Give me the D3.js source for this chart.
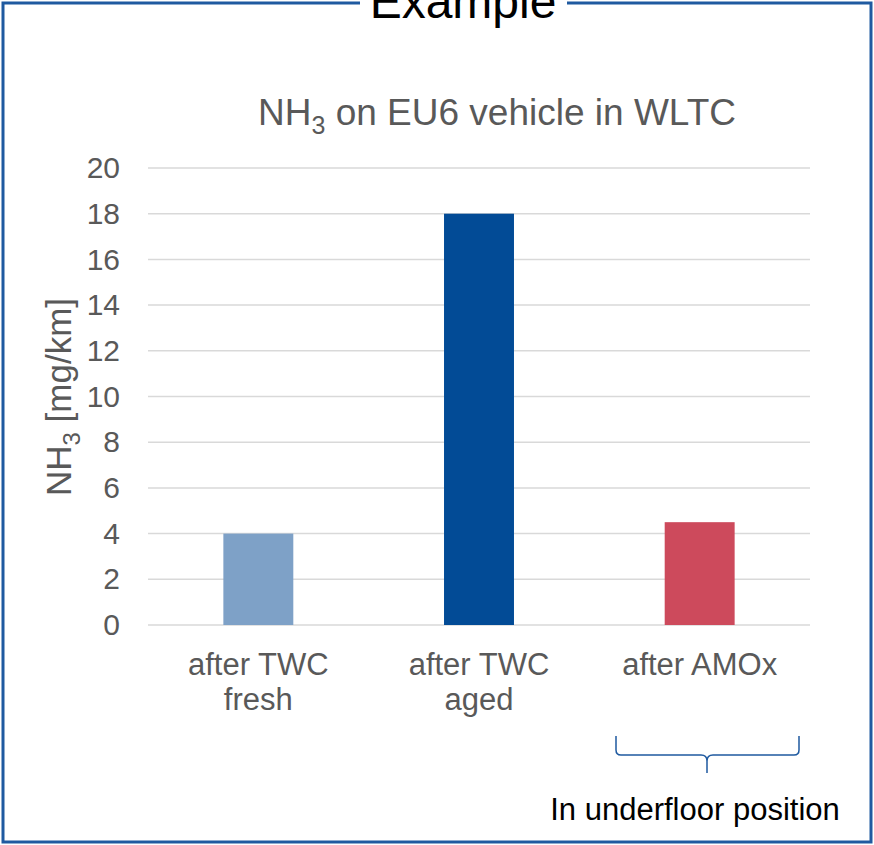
<!DOCTYPE html>
<meta charset="utf-8">
<script src="https://d3js.org/d3.v7.min.js"></script>
<style>
  body { margin: 0; background: #fff; }
  text { font-family: "Liberation Sans", Arial, sans-serif; }
</style>
<div id="chart"></div>
<script>

// data
var categories = [["after TWC", "fresh"], ["after TWC", "aged"], ["after AMOx"]];
var values = [4, 18, 4.5];
var barColors = ["#7ea1c7", "#024b96", "#cd4a5c"];
var yTicks = [0, 2, 4, 6, 8, 10, 12, 14, 16, 18, 20];

var width = 874, height = 845;
var plotLeft = 148, plotRight = 810, plotTop = 168, plotBottom = 625;

var svg = d3.select("#chart").append("svg")
  .attr("width", width)
  .attr("height", height);

// outer frame with gap for the heading
var frame = "#1f5aa0";
svg.append("path")
  .attr("d", "M360,3 L3,3 L3,842 L871,842 L871,3 L567,3")
  .attr("fill", "none")
  .attr("stroke", frame)
  .attr("stroke-width", 3);

svg.append("text")
  .attr("x", 463).attr("y", 18)
  .attr("text-anchor", "middle")
  .style("font-size", "48px")
  .attr("fill", "#000")
  .text("Example");

// scales
var x = d3.scaleBand()
  .domain(d3.range(values.length))
  .range([plotLeft, plotRight])
  .paddingInner(0.683)
  .paddingOuter(0.3415);

var y = d3.scaleLinear().domain([0, 20]).range([plotBottom, plotTop]);

// gridlines
svg.append("g")
  .selectAll("line")
  .data(yTicks)
  .enter().append("line")
  .attr("x1", plotLeft).attr("x2", plotRight)
  .attr("y1", function(d) { return y(d); })
  .attr("y2", function(d) { return y(d); })
  .attr("stroke", "#d9d9d9")
  .attr("stroke-width", 1.5);

// y axis labels
var yAxis = svg.append("g")
  .attr("transform", "translate(" + plotLeft + ",0)")
  .call(d3.axisLeft(y).tickValues(yTicks).tickSize(0).tickPadding(28));
yAxis.select(".domain").remove();
yAxis.selectAll("text")
  .style("font-size", "30px")
  .attr("fill", "#595959")
  .attr("font-family", "Liberation Sans, Arial, sans-serif");

// bars
svg.append("g")
  .selectAll("rect")
  .data(values)
  .enter().append("rect")
  .attr("x", function(d, i) { return x(i); })
  .attr("width", x.bandwidth())
  .attr("y", function(d) { return y(d); })
  .attr("height", function(d) { return y(0) - y(d); })
  .attr("fill", function(d, i) { return barColors[i]; });

// category labels
var cat = svg.append("g")
  .selectAll("text")
  .data(categories)
  .enter().append("text")
  .attr("text-anchor", "middle")
  .attr("fill", "#595959")
  .style("font-size", "31px")
  .attr("x", function(d, i) { return x(i) + x.bandwidth() / 2; })
  .attr("y", 675);
cat.selectAll("tspan")
  .data(function(d) { return d; })
  .enter().append("tspan")
  .attr("x", function() { return d3.select(this.parentNode).attr("x"); })
  .attr("dy", function(d, i) { return i ? 35 : 0; })
  .text(function(d) { return d; });

// chart title
var title = svg.append("text")
  .attr("x", 497).attr("y", 125)
  .attr("text-anchor", "middle")
  .attr("fill", "#595959")
  .style("font-size", "37px");
title.append("tspan").text("NH");
title.append("tspan").attr("dy", 9).style("font-size", "25px").text("3");
title.append("tspan").attr("dy", -9).text(" on EU6 vehicle in WLTC");

// y axis title
var yt = svg.append("text")
  .attr("transform", "translate(71,397) rotate(-90)")
  .attr("text-anchor", "middle")
  .attr("fill", "#595959")
  .style("font-size", "35px");
yt.append("tspan").text("NH");
yt.append("tspan").attr("dy", 9).style("font-size", "24px").text("3");
yt.append("tspan").attr("dy", -9).text(" [mg/km]");

// brace under last bar
svg.append("path")
  .attr("d", "M616,736 L616,750 Q616,755 621,755 L701,755 Q707,755 707,761 L707,773 M707,761 Q707,755 713,755 L794,755 Q799,755 799,750 L799,736")
  .attr("fill", "none")
  .attr("stroke", frame)
  .attr("stroke-width", 1.5);

svg.append("text")
  .attr("x", 695).attr("y", 820)
  .attr("text-anchor", "middle")
  .attr("fill", "#000")
  .style("font-size", "31px")
  .text("In underfloor position");

</script>
